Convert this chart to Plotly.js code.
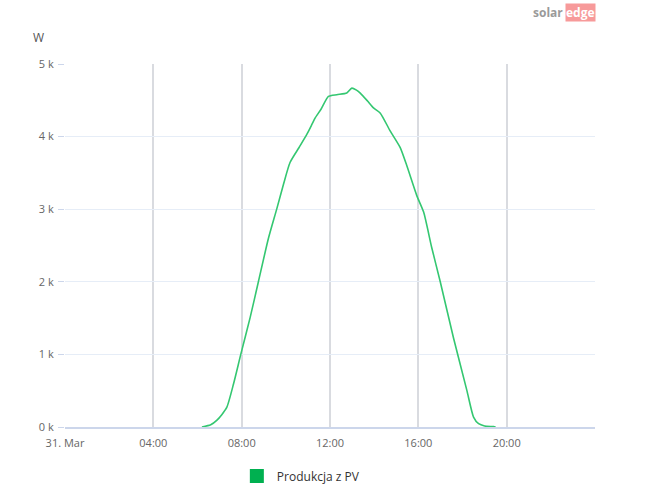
<!DOCTYPE html>
<html>
<head>
<meta charset="utf-8">
<script src="https://cdn.plot.ly/plotly-3.0.1.min.js"></script>
<style>html,body{margin:0;padding:0;background:#fff;}#chart{width:664px;height:503px;}</style>
</head>
<body>
<div id="chart"></div>
<script>
// Time of day in hours (31. Mar)
const hours = [6.2, 6.6, 6.87, 7.1, 7.33, 7.63, 7.96, 8.38, 8.76, 9.21, 9.59, 9.9, 10.19, 10.6, 10.95, 11.18, 11.33, 11.6, 11.93, 12.31, 12.76, 12.99, 13.2, 13.37, 13.7, 13.97, 14.27, 14.73, 15.18, 15.48, 15.93, 16.24, 16.6, 16.99, 17.59, 18.2, 18.5, 18.73, 19.0, 19.41, 19.5];
// Power production (W)
const power = [0, 30, 91, 170, 273, 592, 1000, 1503, 2004, 2596, 3005, 3350, 3643, 3850, 4030, 4167, 4258, 4380, 4553, 4577, 4600, 4668, 4640, 4600, 4490, 4395, 4326, 4075, 3848, 3597, 3187, 2960, 2480, 2004, 1230, 501, 137, 45, 15, 5, 0];
const seriesName = 'Produkcja z PV';
const xTickVals = [0, 4, 8, 12, 16, 20];
const xTickText = ['31. Mar', '04:00', '08:00', '12:00', '16:00', '20:00'];
const yTickVals = [0, 1000, 2000, 3000, 4000, 5000];
const yTickText = ['0 k', '1 k', '2 k', '3 k', '4 k', '5 k'];

const traces = [
  {x: hours, y: power, type: 'scatter', mode: 'lines', name: seriesName, showlegend: false,
   line: {color: '#34c771', width: 1.6, shape: 'spline', smoothing: 0.6}, hoverinfo: 'x+y'},
  {x: [null], y: [null], type: 'scatter', mode: 'markers', name: seriesName, showlegend: true,
   marker: {symbol: 'square', size: 14, color: '#00b050'}}
];

const layout = {
  width: 664, height: 503,
  margin: {l: 65, r: 69, t: 64, b: 73},
  paper_bgcolor: '#ffffff', plot_bgcolor: '#ffffff',
  font: {family: 'Open Sans, DejaVu Sans, sans-serif', size: 11, color: '#666666'},
  xaxis: {
    range: [0, 24], tickvals: xTickVals, ticktext: xTickText,
    showgrid: true, gridcolor: '#d9dbe0', gridwidth: 2,
    zeroline: false, showline: true, linecolor: '#ccd6eb', linewidth: 2,
    ticks: '', ticklen: 0, ticklabelstandoff: 5, fixedrange: true,
    tickfont: {size: 11, color: '#666666'}
  },
  yaxis: {
    range: [0, 5000], tickvals: yTickVals, ticktext: yTickText,
    showgrid: true, gridcolor: '#e6edf7', gridwidth: 1,
    zeroline: false, showline: false,
    ticks: 'outside', ticklen: 6, tickcolor: '#ccd6eb', ticklabelstandoff: 2,
    tickfont: {size: 11, color: '#666666'}, fixedrange: true
  },
  showlegend: true,
  legend: {orientation: 'h', x: 0.445, xanchor: 'center', y: -0.095, yanchor: 'top',
           font: {size: 12, color: '#333333'}, itemwidth: 30},
  annotations: [
    {xref: 'paper', yref: 'paper', x: -0.05, y: 1.045, xanchor: 'center', yanchor: 'bottom',
     text: 'W', showarrow: false, font: {size: 12, color: '#555555'}},
    {xref: 'paper', yref: 'paper', x: 0.943, y: 1.143, xanchor: 'right', yanchor: 'middle',
     text: '<b>solar</b>', showarrow: false, font: {size: 12, color: '#9a9a9a'}},
    {xref: 'paper', yref: 'paper', x: 0.943, y: 1.143, xanchor: 'left', yanchor: 'middle',
     text: '<b>edge</b>', showarrow: false, font: {size: 12, color: '#ffffff'},
     bgcolor: '#f79a9a', borderpad: 0}
  ]
};

Plotly.newPlot('chart', traces, layout, {displayModeBar: false, staticPlot: true});
</script>
</body>
</html>
